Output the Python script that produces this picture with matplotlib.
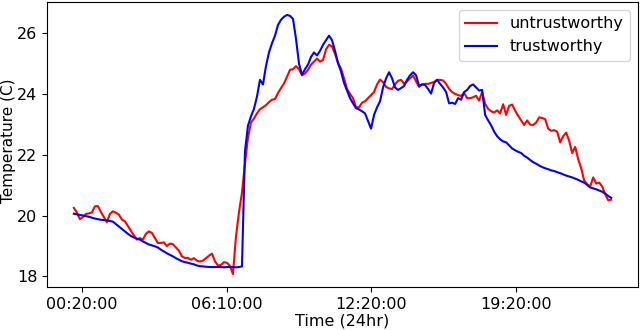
import matplotlib
matplotlib.use("Agg")
import matplotlib.pyplot as plt
import numpy as np

# Temperature readings (C), evenly spaced samples over the day
untrustworthy = [
    20.25, 20.10, 19.88, 19.95, 20.05, 20.07, 20.10, 20.30, 20.31, 20.12,
    19.95, 19.78, 20.05, 20.14, 20.09, 20.03, 19.87, 19.81, 19.66, 19.50,
    19.35, 19.21, 19.26, 19.21, 19.40, 19.48, 19.43, 19.26, 19.10, 19.10,
    19.12, 19.00, 19.08, 19.06, 18.95, 18.85, 18.66, 18.61, 18.61, 18.55,
    18.60, 18.52, 18.49, 18.52, 18.60, 18.68, 18.75, 18.50, 18.36, 18.38,
    18.47, 18.45, 18.35, 18.08, 19.30, 20.10, 20.75, 21.70, 22.55, 23.05,
    23.18, 23.35, 23.49, 23.55, 23.62, 23.72, 23.80, 23.82, 24.02, 24.18,
    24.33, 24.55, 24.78, 24.80, 24.90, 24.80, 24.60, 24.66, 24.78, 24.95,
    25.05, 25.15, 25.05, 25.10, 25.45, 25.60, 25.55, 25.30, 25.00, 24.82,
    24.50, 24.15, 23.99, 23.85, 23.55, 23.55, 23.70, 23.75, 23.85, 23.95,
    24.05, 24.30, 24.46, 24.37, 24.22, 24.17, 24.15, 24.30, 24.42, 24.45,
    24.32, 24.40, 24.50, 24.59, 24.40, 24.22, 24.30, 24.32, 24.32, 24.35,
    24.38, 24.45, 24.45, 24.43, 24.32, 24.15, 24.05, 23.99, 23.95, 23.92,
    24.02, 23.85, 23.85, 23.88, 23.93, 23.77, 24.05, 23.66, 23.50, 23.42,
    23.38, 23.45, 23.35, 23.65, 23.30, 23.60, 23.64, 23.44, 23.27, 23.12,
    22.97, 23.12, 22.98, 22.97, 23.05, 23.22, 23.20, 23.16, 22.85, 22.78,
    22.80, 22.75, 22.40, 22.60, 22.72, 22.45, 22.05, 22.25, 21.85, 21.55,
    21.15, 21.03, 20.95, 21.25, 21.05, 21.08, 20.95, 20.70, 20.50, 20.52,
]

trustworthy = [
    20.06, 20.04, 20.02, 20.00, 19.98, 19.96, 19.93, 19.90, 19.88, 19.86,
    19.85, 19.84, 19.82, 19.80, 19.72, 19.64, 19.56, 19.48, 19.40, 19.33,
    19.28, 19.24, 19.21, 19.15, 19.10, 19.05, 19.02, 18.99, 18.95, 18.88,
    18.82, 18.76, 18.71, 18.66, 18.60, 18.55, 18.50, 18.47, 18.45, 18.42,
    18.40, 18.36, 18.34, 18.33, 18.32, 18.31, 18.31, 18.31, 18.31, 18.31,
    18.30, 18.31, 18.31, 18.31, 18.30, 18.31, 18.33, 22.10, 22.95, 23.25,
    23.50, 23.90, 24.45, 24.30, 24.90, 25.35, 25.65, 25.90, 26.25, 26.42,
    26.52, 26.58, 26.55, 26.45, 25.80, 24.98, 24.62, 24.80, 24.95, 25.20,
    25.35, 25.25, 25.40, 25.60, 25.75, 25.90, 25.75, 25.40, 25.00, 24.72,
    24.35, 24.10, 23.85, 23.68, 23.52, 23.48, 23.42, 23.35, 23.10, 22.85,
    23.30, 23.55, 23.75, 24.20, 24.50, 24.70, 24.50, 24.20, 24.12, 24.18,
    24.25, 24.45, 24.60, 24.70, 24.60, 24.25, 24.30, 24.28, 24.15, 24.00,
    24.35, 24.45, 24.32, 24.20, 24.05, 23.68, 23.70, 23.66, 23.85, 23.80,
    24.05, 24.12, 24.25, 24.30, 24.20, 24.10, 24.12, 23.30, 23.12, 22.96,
    22.75, 22.60, 22.50, 22.43, 22.40, 22.30, 22.20, 22.14, 22.09, 22.05,
    21.96, 21.90, 21.82, 21.75, 21.70, 21.64, 21.59, 21.55, 21.52, 21.48,
    21.46, 21.42, 21.39, 21.35, 21.31, 21.28, 21.25, 21.21, 21.17, 21.12,
    21.08, 21.00, 20.92, 20.89, 20.86, 20.82, 20.78, 20.72, 20.64, 20.58,
]

time_labels = ["00:20:00", "06:10:00", "12:20:00", "19:20:00"]
time_label_index = [2.66, 50.9, 99.1, 147.4]

idx = np.arange(len(untrustworthy))

fig = plt.figure(figsize=(6.4, 3.3), dpi=100)
ax = fig.add_axes([0.0734, 0.1303, 0.9236, 0.8637])
ax.plot(idx, untrustworthy, color="red", lw=1.5, label="untrustworthy")
ax.plot(idx, trustworthy, color="blue", lw=1.5, label="trustworthy")
ax.set_xticks(time_label_index)
ax.set_xticklabels(time_labels)
ax.set_yticks([18, 20, 22, 24, 26])
ax.tick_params(labelsize=11.5)
ax.set_xlabel("Time (24hr)", fontsize=11.5, labelpad=1)
ax.set_ylabel("Temperature (C)", fontsize=11)
ax.yaxis.set_label_coords(-0.053, 0.512)
ax.legend(loc="upper right", fontsize=11.5)
fig.savefig("out.png", dpi=100)
